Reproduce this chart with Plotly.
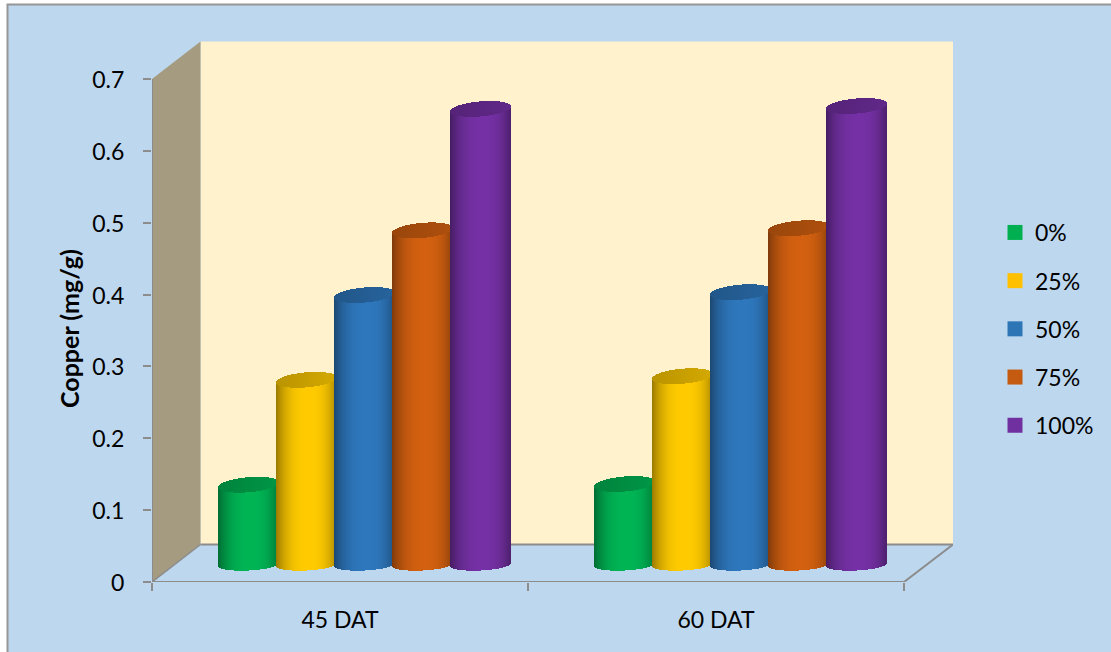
import math
import plotly.graph_objects as go

# Copper content by sampling date and treatment level
categories = ["45 DAT", "60 DAT"]
treatments = ["0%", "25%", "50%", "75%", "100%"]
copper_0 = [0.111, 0.112]
copper_25 = [0.257, 0.262]
copper_50 = [0.375, 0.379]
copper_75 = [0.465, 0.468]
copper_100 = [0.634, 0.638]
y_ticks = [0, 0.1, 0.2, 0.3, 0.4, 0.5, 0.6, 0.7]
y_tick_labels = ["0", "0.1", "0.2", "0.3", "0.4", "0.5", "0.6", "0.7"]

series = [copper_0, copper_25, copper_50, copper_75, copper_100]
colors = [(0, 180, 84), (255, 203, 0), (46, 119, 188), (210, 96, 16), (116, 48, 164)]
legend_colors = [(0, 176, 80), (255, 192, 0), (46, 117, 182), (197, 90, 17), (112, 48, 160)]

FONT = "Lato"
AXIS_GRAY = "#8C8C8C"

# Plot geometry: pixels per axis unit, and the oblique offset of the back wall
PX_X = 376
PX_Y = 718.6
WIDTH, HEIGHT = 1111, 652
LEFT, RIGHT_EDGE, TOP, BOTTOM = 152, 953, 41, 582
WALL_DX = 48.5 / PX_X
WALL_DY = 37.5 / PX_Y
X_MAX = (RIGHT_EDGE - LEFT) / PX_X
Y_MAX = (BOTTOM - TOP) / PX_Y

# Cylinder placement along each category, and its vertical depth offset
START = 66.5 / PX_X
STEP = 58 / PX_X
DIAMETER = 60 / PX_X
FLOOR = 17.5 / PX_Y
SLICES = 60
BASE_B = 6.0 / PX_Y
BASE_TILT = 1.5 / PX_Y
TOP_B = 7.5 / PX_Y
TOP_TILT = 2.5 / PX_Y


def shade(rgb, factor):
    return "rgb({},{},{})".format(*[round(c * factor) for c in rgb])


def lighting(t):
    # Rounded surface: bright slightly right of centre, darkening towards the edges
    u = (t - 0.1) / (1.1 if t < 0.1 else 0.9)
    edge = 0.60 if t < 0.1 else 0.68
    return 1 - (1 - edge) * abs(u) ** 2.6


def cylinder_trace(values, rgb, index):
    xs, heights, bases, widths, fills = [], [], [], [], []
    slice_w = DIAMETER / SLICES
    for group, value in enumerate(values):
        left = group + START + index * STEP
        tops = []
        for i in range(SLICES):
            t = -1 + (i + 0.5) * 2 / SLICES
            arc = math.sqrt(1 - t * t)
            x = left + (i + 0.5) * slice_w
            bottom = FLOOR + BASE_TILT * t - BASE_B * arc
            centre = FLOOR + value + TOP_TILT * t
            xs.append(x)
            bases.append(bottom)
            heights.append(centre - bottom)
            widths.append(slice_w * 1.4)
            fills.append(shade(rgb, lighting(t)))
            tops.append((x, centre - TOP_B * arc, 2 * TOP_B * arc, shade(rgb, 0.78 + 0.05 * t)))
        for x, b, h, c in tops:
            xs.append(x)
            bases.append(b)
            heights.append(h)
            widths.append(slice_w * 1.4)
            fills.append(c)
    return go.Bar(
        x=xs, y=heights, base=bases, width=widths,
        marker=dict(color=fills, line=dict(width=0)),
        showlegend=False, hoverinfo="skip",
    )


fig = go.Figure()
for idx, (vals, col) in enumerate(zip(series, colors)):
    fig.add_trace(cylinder_trace(vals, col, idx))

# Legend entries
for name, col in zip(treatments, legend_colors):
    fig.add_trace(go.Scatter(
        x=[None], y=[None], mode="markers", name=name, legendgroup=name,
        marker=dict(symbol="square", size=15, color=shade(col, 1)),
    ))

# Chart frame, walls and floor edges of the oblique box
px_x = lambda p: (p - LEFT) / (RIGHT_EDGE - LEFT)
px_y = lambda p: (BOTTOM - p) / (BOTTOM - TOP)
wall_line = dict(color=AXIS_GRAY, width=2)
shapes = [
    dict(type="rect", xref="paper", yref="paper", layer="below",
         x0=px_x(7.5), x1=px_x(1125), y0=px_y(4.5), y1=px_y(670),
         fillcolor="#BDD7EE", line=dict(color="#969696", width=2)),
    dict(type="path", xref="x", yref="y", layer="below",
         path=f"M {WALL_DX} {WALL_DY} L {WALL_DX} {0.7 + WALL_DY} L {X_MAX} {0.7 + WALL_DY} L {X_MAX} {WALL_DY} Z",
         fillcolor="#FFF2CC", line=dict(width=0)),
    dict(type="path", xref="x", yref="y", layer="below",
         path=f"M 0 0 L 0 0.7 L {WALL_DX} {0.7 + WALL_DY} L {WALL_DX} {WALL_DY} Z",
         fillcolor="#A59B80", line=dict(width=0)),
    dict(type="line", xref="x", yref="y", layer="below", x0=0, x1=0, y0=0, y1=0.7, line=wall_line),
    dict(type="line", xref="x", yref="y", layer="below", x0=0, x1=2, y0=0, y1=0, line=wall_line),
    dict(type="line", xref="x", yref="y", layer="below", x0=0, x1=WALL_DX, y0=0, y1=WALL_DY,
         line=dict(color=AXIS_GRAY, width=1.5)),
    dict(type="line", xref="x", yref="y", layer="below", x0=2, x1=X_MAX, y0=0, y1=WALL_DY, line=wall_line),
    dict(type="line", xref="x", yref="y", layer="below", x0=WALL_DX, x1=X_MAX, y0=WALL_DY, y1=WALL_DY, line=wall_line),
]

fig.update_layout(
    width=WIDTH, height=HEIGHT,
    margin=dict(l=LEFT, r=WIDTH - RIGHT_EDGE, t=TOP, b=HEIGHT - BOTTOM, autoexpand=False),
    paper_bgcolor="white", plot_bgcolor="rgba(0,0,0,0)",
    barmode="overlay", bargap=0,
    font=dict(family=FONT, size=23, color="#000000"),
    shapes=shapes,
    xaxis=dict(
        range=[0, X_MAX], showgrid=False, zeroline=False, showline=False,
        tickvals=[0.5, 1.5], ticktext=categories, ticks="", ticklabelstandoff=22,
        tickfont=dict(family=FONT, size=23, color="#000000"),
        minor=dict(tickvals=[0, 1, 2], ticks="outside", ticklen=8, tickwidth=2, tickcolor=AXIS_GRAY),
    ),
    yaxis=dict(
        range=[0, Y_MAX], showgrid=False, zeroline=False, showline=False,
        tickvals=y_ticks, ticktext=y_tick_labels, ticks="outside", ticklen=8, tickwidth=2,
        tickcolor=AXIS_GRAY, ticklabelstandoff=14, ticklabelshift=1,
        tickfont=dict(family=FONT, size=23, color="#000000"),
    ),
    legend=dict(
        x=px_x(995), y=px_y(211), xanchor="left", yanchor="top",
        bgcolor="rgba(0,0,0,0)", borderwidth=0, tracegroupgap=15.3, itemsizing="trace",
        font=dict(family=FONT, size=23, color="#000000"),
    ),
    annotations=[dict(
        text="<b>Copper (mg/g)</b>", xref="paper", yref="paper",
        x=px_x(69), y=px_y(329), xanchor="center", yanchor="middle",
        showarrow=False, textangle=-90,
        font=dict(family=FONT, size=25, color="#000000"),
    )],
)

fig.write_html("out.html")
